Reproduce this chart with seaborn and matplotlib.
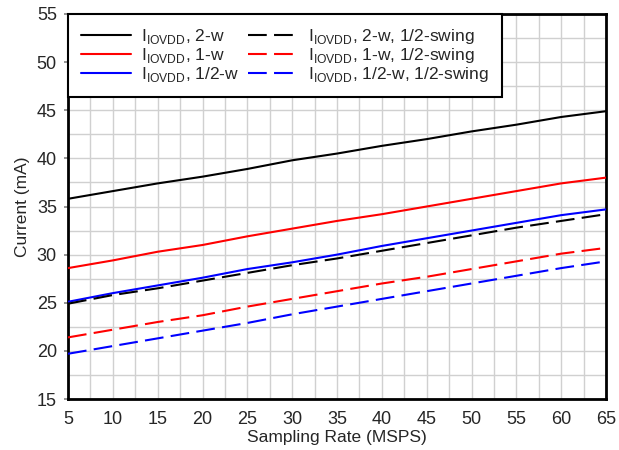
import pandas as pd
import seaborn as sns
import matplotlib.pyplot as plt
from matplotlib.ticker import MultipleLocator

rate = [5, 10, 15, 20, 25, 30, 35, 40, 45, 50, 55, 60, 65]

i_2w = [35.8, 36.6, 37.4, 38.1, 38.9, 39.8, 40.5, 41.3, 42.0, 42.8, 43.5, 44.3, 44.9]
i_1w = [28.6, 29.4, 30.3, 31.0, 31.9, 32.7, 33.5, 34.2, 35.0, 35.8, 36.6, 37.4, 38.0]
i_halfw = [25.1, 26.0, 26.8, 27.6, 28.5, 29.2, 30.0, 30.9, 31.7, 32.5, 33.3, 34.1, 34.7]
i_2w_half = [24.9, 25.8, 26.5, 27.3, 28.1, 28.9, 29.6, 30.4, 31.2, 32.0, 32.8, 33.5, 34.2]
i_1w_half = [21.4, 22.2, 23.0, 23.7, 24.6, 25.4, 26.2, 27.0, 27.7, 28.5, 29.3, 30.1, 30.7]
i_halfw_half = [19.7, 20.5, 21.3, 22.1, 22.9, 23.8, 24.6, 25.4, 26.2, 27.0, 27.8, 28.6, 29.3]

sub = r"I$_{\mathregular{IOVDD}}$"
labels = [sub + ", 2-w", sub + ", 1-w", sub + ", 1/2-w",
          sub + ", 2-w, 1/2-swing", sub + ", 1-w, 1/2-swing", sub + ", 1/2-w, 1/2-swing"]
series = [i_2w, i_1w, i_halfw, i_2w_half, i_1w_half, i_halfw_half]
colors = ["black", "red", "blue", "black", "red", "blue"]

df = pd.concat([pd.DataFrame({"rate": rate, "current": s, "series": lab})
                for s, lab in zip(series, labels)])

sns.set_theme(style="white")
plt.rcParams['font.family'] = ['Liberation Sans', 'DejaVu Sans']
plt.rcParams['mathtext.fontset'] = 'custom'
plt.rcParams['mathtext.rm'] = 'Liberation Sans'

fig = plt.figure(figsize=(6.19, 4.5), dpi=100)
ax = fig.add_axes([68 / 619, 51 / 450, 538 / 619, 385 / 450])

palette = dict(zip(labels, colors))
dashes = {lab: ("" if i < 3 else (9, 3.5)) for i, lab in enumerate(labels)}
sns.lineplot(data=df, x="rate", y="current", hue="series", style="series",
             palette=palette, dashes=dashes, hue_order=labels, style_order=labels,
             linewidth=1.5, ax=ax, zorder=3)

ax.set_xlim(5, 65)
ax.set_ylim(15, 55)
ax.set_xticks(range(5, 66, 5))
ax.set_yticks(range(15, 56, 5))
ax.xaxis.set_minor_locator(MultipleLocator(2.5))
ax.yaxis.set_minor_locator(MultipleLocator(2.5))
ax.grid(which="both", color="#d0d0d0", linewidth=1)
ax.tick_params(which="major", labelsize=13, length=3, color="#888888", left=True, bottom=False, pad=5)
ax.tick_params(axis="x", pad=6)
ax.tick_params(which="minor", length=0)
for sp in ax.spines.values():
    sp.set_color("black")
    sp.set_linewidth(2)
ax.set_xlabel("Sampling Rate (MSPS)", fontsize=12.5, labelpad=1)
ax.set_ylabel("Current (mA)", fontsize=12.5, labelpad=5)

h, l = ax.get_legend_handles_labels()
leg = ax.legend(h, l, ncol=2, loc="upper left", borderaxespad=0, fontsize=12.5,
                handlelength=2.9, columnspacing=0.5, handletextpad=0.55,
                labelspacing=0.0, frameon=True, fancybox=False, framealpha=1,
                borderpad=0.75)
leg.get_frame().set_edgecolor("black")
leg.get_frame().set_linewidth(1.5)

plt.savefig("out.png", dpi=100)
